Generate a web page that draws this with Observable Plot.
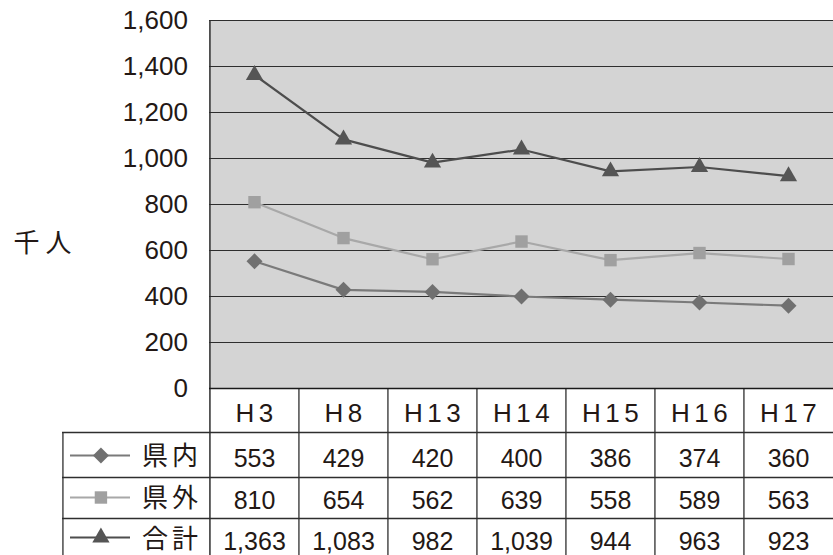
<!DOCTYPE html>
<html>
<head>
<meta charset="utf-8">
<script src="https://cdn.jsdelivr.net/npm/d3@7"></script>
<script src="https://cdn.jsdelivr.net/npm/@observablehq/plot@0.6"></script>
<style>
  html, body { margin: 0; padding: 0; background: #fff; }
</style>
</head>
<body>
<div id="chart"></div>
<script>
// ---- data ----
const years = ["H3", "H8", "H13", "H14", "H15", "H16", "H17"];
const kennai = [553, 429, 420, 400, 386, 374, 360];   // 県内
const kengai = [810, 654, 562, 639, 558, 589, 563];   // 県外
const goukei = [1363, 1083, 982, 1039, 944, 963, 923]; // 合計
const seriesNames = ["県内", "県外", "合計"];
const yTicks = [0, 200, 400, 600, 800, 1000, 1200, 1400, 1600];
const unitLabel = "千人";

// ---- layout ----
const W = 833, H = 555;
const mL = 209, mR = 0, mT = 20, mB = 167;
const step = (W - mL - mR) / years.length;
const frameH = H - mT - mB;
const textColor = "#231815";
const lineColor = "#2e2e2e";

const seriesValues = [kennai, kengai, goukei];
const styles = [
  {symbol: "diamond2", fill: "#707070", stroke: "#7a7a7a", r: 7.2},
  {symbol: "square", fill: "#a0a0a0", stroke: "#a8a8a8", r: 7},
  {symbol: "triangle", fill: "#555555", stroke: "#4d4d4d", r: 6.4}
];
const series = seriesNames.map((name, i) => ({
  name,
  rows: years.map((year, j) => ({year, value: seriesValues[i][j]})),
  ...styles[i]
}));

// table geometry (pixel offsets below the zero line)
const headerCenter = 25;
const rowCenters = [70, 112, 153];
const legendCenters = [67, 109, 149];
const rowLines = [44, 89, 130];
const legendColW = 147;

const fmt = d3.format(",");
const marks = [];

// plot background
marks.push(Plot.frame({fill: "#d4d4d4", stroke: null}));
// gridlines
marks.push(Plot.ruleY(yTicks, {stroke: lineColor, strokeWidth: 1}));
// y tick labels
marks.push(Plot.text(yTicks, {
  x: () => years[0], y: d => d, dx: -step / 2 - 22,
  text: d => fmt(d), textAnchor: "end", fontSize: 26, fill: textColor
}));
// unit label
marks.push(Plot.text([unitLabel], {
  frameAnchor: "left", dx: -196, dy: 39, textAnchor: "start",
  text: d => d, fontSize: 26, fill: textColor, ariaDescription: "unit"
}));

// left axis line extending into table
marks.push(Plot.ruleX([years[0]], {dx: -step / 2, stroke: lineColor, strokeWidth: 1.5, insetBottom: -mB}));
// table column separators
marks.push(Plot.ruleX(years.slice(1), {dx: -step / 2, stroke: lineColor, strokeWidth: 1.3, insetTop: frameH, insetBottom: -mB}));
// legend column left border
marks.push(Plot.ruleX([years[0]], {dx: -step / 2 - legendColW, stroke: lineColor, strokeWidth: 1.3, insetTop: frameH + rowLines[0], insetBottom: -mB}));
// zero line (bold)
marks.push(Plot.ruleY([0], {stroke: "#1a1a1a", strokeWidth: 1.5}));
// table row lines
for (const off of rowLines) {
  marks.push(Plot.ruleY([0], {dy: off, stroke: lineColor, strokeWidth: 1.3, insetLeft: -legendColW}));
}
// header
marks.push(Plot.text(years, {
  x: d => d, y: () => 0, dy: headerCenter, text: d => d,
  fontSize: 26, fill: textColor, dx: 2, ariaDescription: "header"
}));

// series lines, dots, table rows, legend
series.forEach((s, i) => {
  marks.push(Plot.line(s.rows, {x: "year", y: "value", stroke: s.stroke, strokeWidth: 2.2}));
  marks.push(Plot.dot(s.rows, {x: "year", y: "value", symbol: () => s.symbol, fill: s.fill, stroke: null, r: s.r}));
  marks.push(Plot.text(s.rows, {
    x: "year", y: () => 0, dy: rowCenters[i], text: d => fmt(d.value),
    fontSize: 25, fill: textColor
  }));
  // legend line
  marks.push(Plot.ruleY([0], {dy: legendCenters[i], stroke: s.stroke, strokeWidth: 2, insetLeft: 70 - mL, insetRight: W - 130}));
  // legend symbol
  marks.push(Plot.dot([s], {x: () => years[0], y: () => 0, dx: 100 - (mL + step / 2), dy: legendCenters[i], symbol: () => s.symbol, fill: s.fill, stroke: null, r: s.r}));
  // legend name
  marks.push(Plot.text([s], {
    x: () => years[0], y: () => 0, dx: 171 - (mL + step / 2), dy: rowCenters[i] - 2,
    text: d => d.name, fontSize: 26, fill: textColor, ariaDescription: "legendname"
  }));
});

const plot = Plot.plot({
  width: W,
  height: H,
  marginLeft: mL,
  marginRight: mR,
  marginTop: mT,
  marginBottom: mB,
  style: {fontFamily: "'Liberation Sans', 'Noto Sans CJK JP', sans-serif", background: "#fff", overflow: "visible"},
  x: {type: "point", domain: years, padding: 0.5, axis: null},
  y: {domain: [0, 1600], axis: null},
  marks
});
// letter spacing for the widely tracked texts
d3.select(plot).selectAll("g[aria-description=header] text").style("letter-spacing", "4.5px");
d3.select(plot).selectAll("g[aria-description=legendname] text").style("letter-spacing", "4px");
d3.select(plot).selectAll("g[aria-description=unit] text").style("letter-spacing", "6px");
document.getElementById("chart").appendChild(plot);
</script>
</body>
</html>
